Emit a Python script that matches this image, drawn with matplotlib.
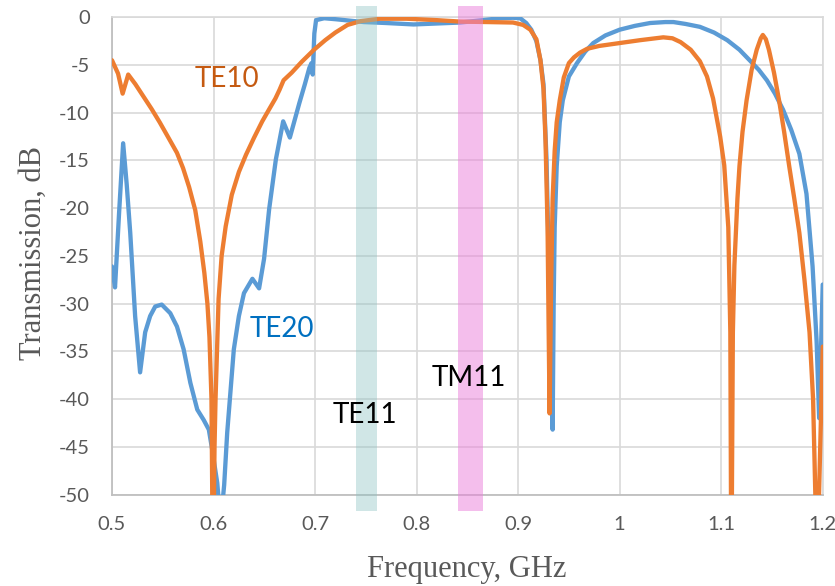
import numpy as np
import matplotlib
matplotlib.use("Agg")
import matplotlib.pyplot as plt

# Excel-like colours
azul = '#5b9bd5'
laranja = '#ed7d31'
cinza = '#595959'

# ---- data (frequency in GHz, transmission in dB) ----
te10_f = [0.500, 0.506, 0.5105, 0.516, 0.523, 0.531, 0.539, 0.547, 0.555, 0.564,
          0.570, 0.576, 0.582, 0.587, 0.591, 0.594, 0.596, 0.598, 0.5995, 0.601,
          0.602, 0.605, 0.608, 0.612, 0.618, 0.625, 0.632, 0.640, 0.648, 0.655,
          0.661, 0.665, 0.669, 0.677, 0.687, 0.699, 0.710, 0.720, 0.732, 0.745,
          0.764, 0.790, 0.820, 0.843, 0.870, 0.895, 0.905, 0.912, 0.918, 0.922,
          0.925, 0.927, 0.929, 0.930, 0.931, 0.9325, 0.934, 0.936, 0.938, 0.941,
          0.945, 0.950, 0.955, 0.961, 0.968, 0.980, 1.000, 1.020, 1.043, 1.052,
          1.060, 1.070, 1.079, 1.086, 1.092, 1.099, 1.103, 1.107, 1.109, 1.110,
          1.1115, 1.113, 1.116, 1.118, 1.121, 1.125, 1.130, 1.135, 1.139, 1.141,
          1.144, 1.147, 1.152, 1.157, 1.162, 1.167, 1.172, 1.177, 1.182, 1.187,
          1.1905, 1.1945, 1.200]
te10_db = [-4.5, -5.9, -8.0, -6.0, -7.0, -8.3, -9.6, -11.0, -12.5, -14.2,
           -15.8, -17.8, -20.2, -23.5, -26.8, -30.0, -33.5, -40.0, -60.0, -45.0,
           -40.0, -29.5, -25.0, -21.9, -18.6, -16.2, -14.4, -12.6, -10.9, -9.6,
           -8.5, -7.6, -6.6, -5.8, -4.65, -3.4, -2.4, -1.6, -0.8, -0.4,
           -0.15, -0.15, -0.3, -0.45, -0.5, -0.55, -0.8, -1.3, -2.3, -4.5,
           -7.5, -13.0, -22.0, -32.0, -41.5, -28.0, -19.0, -14.0, -11.0, -8.7,
           -6.3, -4.8, -4.2, -3.7, -3.3, -3.0, -2.7, -2.4, -2.1, -2.2,
           -2.6, -3.4, -4.6, -6.2, -8.5, -12.5, -15.5, -22.0, -33.0, -60.0,
           -33.0, -26.0, -19.0, -15.6, -12.0, -8.7, -5.5, -3.4, -2.2, -1.85,
           -2.3, -3.4, -5.8, -8.7, -12.0, -15.6, -19.0, -22.6, -27.5, -33.0,
           -40.0, -58.0, -34.5]

te20_f = [0.500, 0.503, 0.507, 0.511, 0.5145, 0.518, 0.5228, 0.5277, 0.5327, 0.5376,
          0.5426, 0.549, 0.5574, 0.564, 0.5706, 0.5772, 0.584, 0.5904, 0.5954, 0.5987,
          0.6037, 0.607, 0.6105, 0.6135, 0.620, 0.625, 0.630, 0.6383, 0.6449, 0.6498,
          0.6548, 0.6614, 0.6686, 0.6752, 0.6845, 0.690, 0.6944, 0.6965, 0.6977, 0.6993,
          0.701, 0.709, 0.720, 0.748, 0.770, 0.797, 0.820, 0.843, 0.865, 0.882,
          0.895, 0.902, 0.908, 0.913, 0.918, 0.922, 0.925, 0.928, 0.930, 0.932,
          0.934, 0.935, 0.936, 0.938, 0.941, 0.944, 0.950, 0.958, 0.966, 0.974,
          0.986, 1.000, 1.015, 1.030, 1.045, 1.053, 1.065, 1.079, 1.093, 1.106,
          1.118, 1.128, 1.137, 1.145, 1.153, 1.161, 1.169, 1.177, 1.184, 1.190,
          1.194, 1.1965, 1.200]
te20_db = [-26.1, -28.3, -20.5, -13.2, -17.5, -22.6, -31.3, -37.2, -33.0, -31.3,
           -30.3, -30.1, -31.0, -32.4, -34.8, -38.3, -41.1, -42.2, -43.2, -45.3,
           -48.8, -53.0, -49.0, -43.5, -34.8, -31.3, -28.9, -27.4, -28.4, -25.3,
           -20.1, -14.9, -10.9, -12.6, -9.0, -7.0, -5.3, -4.8, -6.0, -1.7,
           -0.3, -0.1, -0.2, -0.5, -0.6, -0.75, -0.65, -0.55, -0.3, -0.1,
           -0.05, -0.1, -0.6, -1.3, -2.5, -4.5, -7.0, -15.0, -25.0, -35.0,
           -43.2, -30.0, -22.0, -15.6, -11.0, -8.7, -6.2, -4.8, -3.6, -2.7,
           -1.9, -1.3, -0.9, -0.6, -0.5, -0.5, -0.7, -1.0, -1.6, -2.4,
           -3.4, -4.5, -5.5, -6.6, -8.0, -9.7, -11.8, -14.3, -18.5, -26.1,
           -34.0, -42.0, -28.0]

# cutoff bands (GHz)
band_names = ['TE11', 'TM11']
band_lo = [0.7406, 0.841]
band_hi = [0.7613, 0.8655]

x_ticks = [0.5, 0.6, 0.7, 0.8, 0.9, 1.0, 1.1, 1.2]
x_tick_labels = ['0.5', '0.6', '0.7', '0.8', '0.9', '1', '1.1', '1.2']
y_ticks = [0, -5, -10, -15, -20, -25, -30, -35, -40, -45, -50]
y_tick_labels = ['0', '-5', '-10', '-15', '-20', '-25', '-30', '-35', '-40', '-45', '-50']

######
plt.rcParams['font.family'] = ['Lato', 'DejaVu Sans']
plt.rcParams['axes.unicode_minus'] = False
######

fig = plt.figure(figsize=(8.35, 5.86), dpi=100)
ax = fig.add_axes([0.1341, 0.1561, 0.8512, 0.8144])

ax.plot(te20_f, te20_db, color=azul, lw=3.1, solid_joinstyle='round',
        solid_capstyle='round', zorder=3)
ax.plot(te10_f, te10_db, color=laranja, lw=3.1, solid_joinstyle='round',
        solid_capstyle='round', zorder=4)

# translucent bands on top of the curves
band_cols = ['#8ac2c2', '#eb7fdb']
band_alpha = [0.4, 0.5]
for lo, hi, c, a in zip(band_lo, band_hi, band_cols, band_alpha):
    ax.fill_between([lo, hi], -51.7, 1.2, color=c, alpha=a, lw=0,
                    clip_on=False, zorder=5)

ax.set_xlim(0.5, 1.2)
ax.set_ylim(-50, 0)
ax.set_xticks(x_ticks)
ax.set_xticklabels(x_tick_labels)
ax.set_yticks(y_ticks)
ax.set_yticklabels(y_tick_labels)
ax.tick_params(axis='both', length=0, labelsize=14.5, labelcolor=cinza)
ax.tick_params(axis='x', pad=15.5)
ax.tick_params(axis='y', pad=16)

ax.grid(True, color='#d9d9d9', lw=1.2)
ax.set_axisbelow(True)
for s in ['left', 'bottom']:
    ax.spines[s].set_color('#bfbfbf')
    ax.spines[s].set_linewidth(1.3)
for s in ['top', 'right']:
    ax.spines[s].set_color('#d9d9d9')
    ax.spines[s].set_linewidth(1.2)

# mode labels
ax.text(0.6129, -7.30, 'TE10', color='#c55a11', fontsize=20, ha='center', va='baseline', zorder=6)
ax.text(0.667, -33.45, 'TE20', color='#0070c0', fontsize=20, ha='center', va='baseline', zorder=6)
ax.text(0.7487, -42.5, band_names[0], color='black', fontsize=20, ha='center', va='baseline', zorder=6)
ax.text(0.8512, -38.6, band_names[1], color='black', fontsize=20, ha='center', va='baseline', zorder=6)

# axis titles (Times-like)
fig.text(467/835, 1 - 569/586, 'Frequency, GHz', family='Liberation Serif',
         fontsize=22, color=cinza, ha='center', va='center')
fig.text(33/835, 1 - 253/586, 'Transmission, dB', family='Liberation Serif',
         fontsize=22, color=cinza, ha='center', va='center', rotation=90)

plt.savefig('out.png', dpi=100)
plt.close()
